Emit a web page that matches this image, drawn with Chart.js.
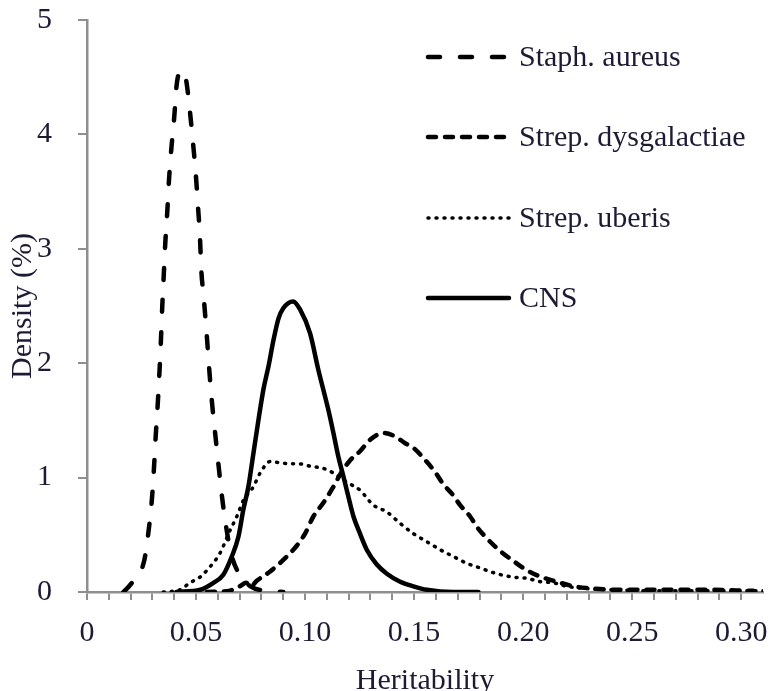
<!DOCTYPE html>
<html>
<head>
<meta charset="utf-8">
<script src="https://cdn.jsdelivr.net/npm/chart.js@4"></script>
<style>
  html, body { margin: 0; padding: 0; background: #fff; }
  #wrap { width: 773px; height: 691px; }
</style>
</head>
<body>
<div id="wrap"><canvas id="chart" width="773" height="691"></canvas></div>
<script>
// values
const seriesNames = ['Staph. aureus', 'Strep. dysgalactiae', 'Strep. uberis', 'CNS'];

const staphX = [0.0167, 0.0197, 0.0263, 0.0284, 0.0298, 0.0307, 0.0315, 0.0324, 0.0332, 0.0339, 0.0345, 0.0352, 0.0359, 0.0368, 0.0376, 0.0387, 0.0400, 0.0411, 0.0431, 0.0454, 0.0472, 0.0486, 0.0499, 0.0509, 0.0518, 0.0524, 0.0535, 0.0549, 0.0560, 0.0572, 0.0587, 0.0602, 0.0618, 0.0638, 0.066, 0.070, 0.075, 0.082, 0.090];
const staphY = [0, 0.06, 0.28, 0.56, 0.82, 1.08, 1.36, 1.63, 1.91, 2.20, 2.49, 2.77, 3.05, 3.32, 3.60, 3.88, 4.15, 4.43, 4.56, 4.48, 4.20, 3.93, 3.65, 3.37, 3.10, 2.82, 2.58, 2.25, 1.96, 1.68, 1.40, 1.13, 0.85, 0.57, 0.34, 0.15, 0.05, 0.01, 0];

const dysgalX = [0.055, 0.065, 0.070, 0.073, 0.075, 0.078, 0.084, 0.090, 0.096, 0.100, 0.1038, 0.1084, 0.113, 0.1168, 0.1206, 0.1252, 0.1298, 0.1359, 0.1413, 0.1459, 0.1497, 0.1543, 0.1596, 0.1635, 0.1673, 0.1711, 0.1757, 0.1788, 0.1833, 0.1894, 0.1956, 0.2017, 0.2086, 0.2155, 0.2231, 0.2323, 0.2414, 0.258, 0.281, 0.3055];
const dysgalY = [0, 0.01, 0.05, 0.08, 0.05, 0.10, 0.18, 0.28, 0.40, 0.51, 0.66, 0.78, 0.92, 1.05, 1.15, 1.23, 1.33, 1.39, 1.36, 1.30, 1.26, 1.17, 1.05, 0.94, 0.86, 0.76, 0.66, 0.57, 0.47, 0.36, 0.27, 0.19, 0.13, 0.09, 0.05, 0.03, 0.02, 0.02, 0.02, 0.01];

const uberisX = [0.035, 0.0427, 0.0472, 0.0518, 0.0564, 0.061, 0.0656, 0.0687, 0.0717, 0.0763, 0.0794, 0.084, 0.0885, 0.0931, 0.0977, 0.1023, 0.1084, 0.113, 0.1191, 0.1252, 0.1313, 0.1375, 0.1436, 0.1497, 0.1558, 0.1619, 0.168, 0.1742, 0.1803, 0.1879, 0.1956, 0.2017, 0.2078, 0.214, 0.22, 0.229, 0.24, 0.26, 0.28, 0.30, 0.31];
const uberisY = [0, 0.02, 0.08, 0.13, 0.22, 0.34, 0.54, 0.66, 0.80, 0.92, 1.04, 1.14, 1.13, 1.12, 1.12, 1.10, 1.08, 1.04, 0.96, 0.89, 0.76, 0.70, 0.60, 0.51, 0.44, 0.37, 0.31, 0.25, 0.21, 0.16, 0.13, 0.12, 0.09, 0.08, 0.05, 0.03, 0.02, 0.01, 0.01, 0.01, 0.01];

const cnsX = [0.041, 0.052, 0.058, 0.0625, 0.0664, 0.0694, 0.0717, 0.074, 0.0763, 0.0786, 0.0809, 0.0832, 0.0855, 0.0878, 0.090, 0.0945, 0.0977, 0.1023, 0.106, 0.1107, 0.113, 0.1153, 0.1176, 0.1199, 0.1222, 0.1252, 0.1283, 0.1329, 0.1375, 0.1436, 0.1497, 0.1558, 0.168, 0.1795];
const cnsY = [0, 0.02, 0.08, 0.15, 0.31, 0.48, 0.72, 0.92, 1.21, 1.50, 1.77, 1.97, 2.20, 2.39, 2.48, 2.54, 2.47, 2.26, 1.95, 1.59, 1.39, 1.18, 1.01, 0.83, 0.66, 0.51, 0.37, 0.24, 0.16, 0.09, 0.05, 0.02, 0, 0];

const xTitle = 'Heritability';
const yTitle = 'Density (%)';

const textColor = '#1b1b33';
const axisColor = '#8f8f8f';
const serif = "'Liberation Serif', 'DejaVu Serif', serif";

function toPoints(xs, ys) {
    return xs.map((x, i) => ({ x: x, y: ys[i] }));
}

function line(label, xs, ys, width, dash, cap) {
    return {
        label: label,
        data: toPoints(xs, ys),
        borderColor: '#000',
        borderWidth: width,
        borderDash: dash,
        borderCapStyle: cap,
        pointRadius: 0,
        fill: false,
        tension: 0.4,
        cubicInterpolationMode: 'monotone'
    };
}

// legend drawn by hand so it sits inside the plot like the original
const sideLegend = {
    id: 'sideLegend',
    afterDraw(chart) {
        const ctx = chart.ctx;
        const rows = [57, 137, 218, 298];
        ctx.save();
        chart.data.datasets.forEach((ds, i) => {
            const y = rows[i];
            ctx.beginPath();
            ctx.strokeStyle = ds.borderColor;
            ctx.lineWidth = ds.borderWidth;
            ctx.lineCap = ds.borderCapStyle;
            ctx.setLineDash(ds.borderDash);
            ctx.moveTo(428, y);
            ctx.lineTo(509, y);
            ctx.stroke();
            ctx.setLineDash([]);
            ctx.fillStyle = textColor;
            ctx.font = '30px ' + serif;
            ctx.textBaseline = 'middle';
            ctx.textAlign = 'left';
            ctx.fillText(ds.label, 519, y + 1);
        });
        ctx.restore();
    }
};

new Chart(document.getElementById('chart'), {
    type: 'line',
    data: {
        datasets: [
            line(seriesNames[0], staphX, staphY, 4.5, [12, 20], 'round'),
            line(seriesNames[1], dysgalX, dysgalY, 4.5, [8, 9], 'round'),
            line(seriesNames[2], uberisX, uberisY, 3.5, [1, 7], 'round'),
            line(seriesNames[3], cnsX, cnsY, 4.5, [], 'round')
        ]
    },
    plugins: [sideLegend],
    options: {
        responsive: false,
        animation: false,
        layout: { padding: { top: 20, right: 10, left: 0, bottom: 0 } },
        plugins: {
            legend: { display: false },
            tooltip: { enabled: false }
        },
        scales: {
            x: {
                type: 'linear',
                min: 0,
                max: 0.31,
                afterFit(scale) {
                    scale.height = 99;
                    scale.paddingLeft = 0;
                    scale.paddingRight = 0;
                },
                afterBuildTicks(scale) {
                    scale.ticks = scale.ticks.filter(t => t.value < 0.305);
                },
                border: { display: true, color: axisColor, width: 2.5 },
                grid: { drawOnChartArea: false, drawTicks: true, tickLength: 8, color: axisColor, lineWidth: 2 },
                ticks: {
                    stepSize: 0.01,
                    autoSkip: false,
                    maxRotation: 0,
                    padding: 15,
                    color: textColor,
                    font: { family: serif, size: 30 },
                    callback: v => {
                        const n = Math.round(v * 100);
                        if (n % 5 !== 0) return '';
                        return n === 0 ? '0' : (n / 100).toFixed(2);
                    }
                },
                title: {
                    display: true,
                    text: xTitle,
                    color: textColor,
                    font: { family: serif, size: 30 },
                    padding: { top: 0, bottom: -8 }
                }
            },
            y: {
                min: 0,
                max: 5,
                afterFit(scale) {
                    scale.width = 87;
                    scale.paddingTop = 0;
                    scale.paddingBottom = 0;
                },
                border: { display: true, color: axisColor, width: 2.5 },
                grid: { drawOnChartArea: false, drawTicks: true, tickLength: 9, color: axisColor, lineWidth: 2 },
                ticks: {
                    stepSize: 1,
                    padding: 26,
                    color: textColor,
                    font: { family: serif, size: 30 }
                },
                title: {
                    display: true,
                    text: yTitle,
                    color: textColor,
                    font: { family: serif, size: 30 },
                    padding: { top: 5, bottom: 0 }
                }
            }
        }
    }
});
</script>
</body>
</html>
